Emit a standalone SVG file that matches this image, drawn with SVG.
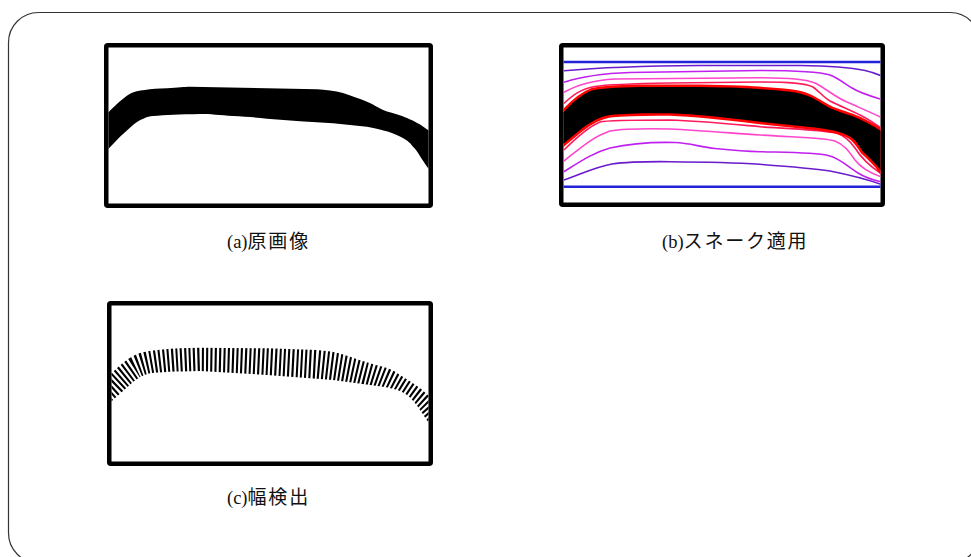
<svg xmlns="http://www.w3.org/2000/svg" width="971" height="557" viewBox="0 0 971 557">
  <style>
    .frame { fill: #fff; stroke: #000; stroke-width: 4.5; }
    .label { font-family: "Liberation Serif", "Noto Sans CJK JP", sans-serif; font-size: 18.5px; fill: #111; }
    .cjk { font-family: "Noto Sans CJK JP", sans-serif; font-size: 19px; letter-spacing: 1.8px; }
    .snake { fill: none; stroke-width: 1.6; }
    .blue { stroke: #2222d8; stroke-width: 2.4; fill: none; }
    .purple { stroke: #6a1ccc; }
    .magenta { stroke: #c020f0; }
    .pink { stroke: #ff46cc; }
    .crimson { stroke: #ff1a5c; }
  </style>
  <defs>
    <!-- inner areas of the three panels -->
    <clipPath id="clipA"><rect x="108.5" y="47.5" width="320" height="156"/></clipPath>
    <clipPath id="clipB"><rect x="563.5" y="47.5" width="317" height="155"/></clipPath>
    <clipPath id="clipC"><rect x="111.5" y="305.5" width="317" height="156"/></clipPath>

    <!-- band shape of the original image -->
    <path id="bandA" d="M 100,120 L 109,111.7 C 116,105 124,97 131,93.3 C 137,90.5 150,88.8 167,88.3 C 178,87.5 185,86.8 190,86.7 L 267,88.3 L 317,89.3 C 325,89.5 335,91 343,93 C 352,96 360,99 367,101.7 C 375,105 380,109 387,111.5 C 395,113.5 400,115 407,118 C 414,121 420,124 428,130 L 440,140 L 440,185 L 428,168 C 422,160 417,150 413,146.7 C 410,142 405,139 400,136.5 C 393,133 385,130 367,126.7 L 333,123.3 L 300,121.3 L 267,118.7 C 255,117.5 245,116.5 233,116 C 220,115 210,114 200,114 C 180,114.3 165,115 153,116 C 147,116.5 140,119.5 133,125 L 120,136.7 L 109,148.3 L 100,157 Z"/>

    <!-- band shape after snake fitting -->
    <path id="bandB" d="M 555,120 L 564,111.7 C 572,103 582,94 592,90.5 C 600,88.5 615,87.5 640,87 L 700,87 C 730,87.5 750,88 765,89.5 C 785,91 798,92 808,96 C 818,100 823,105 832,109 C 842,113 850,115 858,118.5 C 866,122 873,126 884,133 L 884,175 L 878,166.7 C 872,160 867,155 863,151.7 C 859,146 856,140 850,136.5 C 843,132 830,129 810,127 L 760,121.7 C 730,118 700,114.5 670,113.3 C 645,113 625,113.5 610,115 C 600,116.5 590,122 580,130 L 564,143.3 L 555,152 Z"/>

    <!-- region covered by width measurements -->
    <clipPath id="bandC">
      <path d="M 100,382 L 113,372 C 120,365 130,356 140,353 C 150,350 170,348 200,347.7 L 267,348.3 L 317,350 C 330,351 340,353 350,356.7 C 362,361 372,364 383,366.7 C 392,369.5 396,372 400,375 C 410,381 420,387 430,397 L 440,406 L 440,440 L 428,421.7 C 420,410 414,400 407,395 C 400,390 392,388 383,386.7 L 333,380 L 267,375 L 200,371 C 175,371.5 160,372 150,373.3 C 143,375 138,378 133,382 L 113,400 L 100,412 Z"/>
    </clipPath>
  </defs>

  <!-- outer rounded border -->
  <rect x="8.5" y="12.5" width="971.5" height="550.5" rx="30" ry="30" fill="#fff" stroke="#333" stroke-width="1.2"/>

  <!-- (a) original image -->
  <g id="panel-a">
    <rect class="frame" x="106.25" y="45.25" width="324.5" height="160.5" rx="1.5"/>
    <g clip-path="url(#clipA)">
      <use href="#bandA" fill="#000"/>
    </g>
    <text class="label" x="227" y="247.5">(a)<tspan class="cjk">原画像</tspan></text>
  </g>

  <!-- (b) snake contours -->
  <g id="panel-b">
    <rect class="frame" x="561.25" y="45.25" width="321.5" height="159.5" rx="1.5"/>
    <g clip-path="url(#clipB)">
      <path class="blue" d="M 560,62 H 884"/>
      <path class="blue" d="M 560,186.7 H 884"/>
      <!-- contours above the band -->
      <path class="snake purple" d="M 564,70.7 C 600,67.5 640,66 700,65.5 L 800,65.5 C 830,66 850,67.5 865,70.5 C 872,72 877,74 881,75.7"/>
      <path class="snake magenta" d="M 564,82.3 C 580,77 600,73.5 630,72.5 L 760,70.5 C 800,70.5 820,72 830,75 C 840,79 845,84 852,88 C 860,93 870,96 881,99.3"/>
      <path class="snake pink" d="M 564,92.3 C 575,86 590,80.5 615,79 L 760,77.7 C 790,78 805,79 815,83 C 825,88 835,97 847,102 C 858,107 870,112 881,117.3"/>
      <path class="snake crimson" d="M 564,103.3 C 572,96 580,89 595,86.5 C 610,84 640,83.5 670,83 L 760,82 C 790,82 805,83 813,87 C 820,92 823,97 830,101 C 840,106 850,110 860,115 C 868,119 874,123 881,128"/>
      <!-- contours below the band -->
      <path class="snake crimson" d="M 564,150 C 575,139 588,127 600,122 C 606,120.5 620,120 670,120 C 700,121 730,124 760,126.7 C 800,129.5 825,130 837,133.3 C 845,136 850,141 855,148 C 860,156 868,165 881,173.5"/>
      <path class="snake pink" d="M 564,161 C 578,150 592,137 610,131 C 625,128.5 645,128.5 670,129 C 700,130.5 730,133 760,135 C 800,137.5 825,137.5 835,141 C 845,145 850,153 855,160 C 862,169 870,173 881,176.8"/>
      <path class="snake magenta" d="M 564,171.7 C 578,163 592,153 610,148 C 630,143.5 655,142 675,142.5 C 690,143 700,147 715,148.5 C 735,150.5 750,151.5 760,151.7 C 790,152.5 815,152.5 828,155.5 C 840,158 848,167 858,173 C 866,178 873,180 881,181.7"/>
      <path class="snake purple" d="M 564,180 C 580,174.5 595,167 612,164 C 630,161.5 650,161.5 670,161.7 C 710,162 740,163 760,164.3 C 790,166.5 810,168 830,171 C 850,175 866,179 881,184.3"/>
      <!-- converged contour: red edge around the band -->
      <use href="#bandB" fill="#ff0000" stroke="#ff0000" stroke-width="5" stroke-linejoin="round"/>
      <use href="#bandB" fill="#000"/>
    </g>
    <text class="label" x="662" y="247.5">(b)<tspan class="cjk">スネーク適用</tspan></text>
  </g>

  <!-- (c) width detection -->
  <g id="panel-c">
    <rect class="frame" x="109.25" y="303.25" width="321.5" height="160.5" rx="1.5"/>
    <g clip-path="url(#clipC)">
      <g clip-path="url(#bandC)">
        <path d="M 95,402 L 113,386 C 120,379 127,373 135,368 C 145,363 160,360.5 200,359.4 C 230,359.5 260,361 317,364 C 335,365.5 350,368 365,372 C 378,375 390,380 400,386 C 410,392 420,399 428,408 L 442,424" fill="none" stroke="#000" stroke-width="70" stroke-dasharray="2.1 2.2"/>
      </g>
    </g>
    <text class="label" x="227" y="503.5">(c)<tspan class="cjk">幅検出</tspan></text>
  </g>
</svg>
